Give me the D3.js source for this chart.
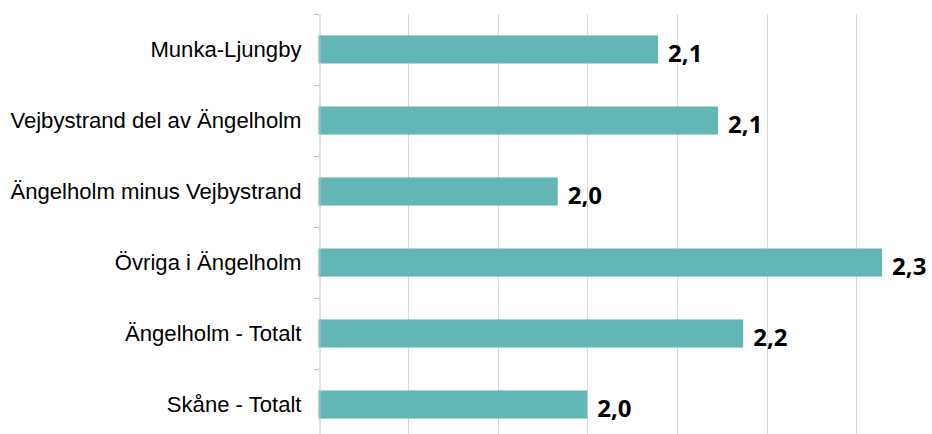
<!DOCTYPE html>
<html>
<head>
<meta charset="utf-8">
<script src="https://cdn.jsdelivr.net/npm/d3@7"></script>
<style>
  html, body { margin: 0; padding: 0; background: #fff; }
  svg { display: block; }
</style>
</head>
<body>
<svg id="chart" width="932" height="434"></svg>
<script>
// categories top to bottom
const categories = [
  "Munka-Ljungby",
  "Vejbystrand del av Ängelholm",
  "Ängelholm minus Vejbystrand",
  "Övriga i Ängelholm",
  "Ängelholm - Totalt",
  "Skåne - Totalt",
];
const values = [2.079, 2.146, 1.967, 2.329, 2.174, 2.0];
const xTicks = [1.7, 1.8, 1.9, 2.0, 2.1, 2.2, 2.3, 2.4];

const width = 932;
const height = 434;
const marginLeft = 318.5;
const marginTop = 14;
const plotBottom = 440; // last band runs past the picture edge

const svg = d3.select("#chart");

const x = d3.scaleLinear().domain([1.7, 2.4]).range([marginLeft, marginLeft + 7 * 89.6]);
const y = d3.scaleBand().domain(categories).range([marginTop, plotBottom]).padding(0);
const barH = y.bandwidth() * 0.395;

// vertical gridlines
svg.selectAll(".gridline")
  .data(xTicks.slice(1))
  .join("line")
  .attr("class", "gridline")
  .attr("x1", (d) => Math.round(x(d)) + 0.5)
  .attr("x2", (d) => Math.round(x(d)) + 0.5)
  .attr("y1", marginTop)
  .attr("y2", height)
  .attr("stroke", "#d9d9d9")
  .attr("stroke-width", 1);

// bars
svg.selectAll(".bar")
  .data(values)
  .join("rect")
  .attr("class", "bar")
  .attr("x", x(1.7))
  .attr("y", (d, i) => y(categories[i]) + (y.step() - barH) / 2)
  .attr("width", (d) => x(d) - x(1.7))
  .attr("height", barH)
  .attr("fill", "#62b7b4");

// value labels
svg.selectAll(".value-label")
  .data(values)
  .join("text")
  .attr("class", "value-label")
  .attr("x", (d) => x(d) + 10)
  .attr("y", (d, i) => y(categories[i]) + y.step() / 2 + 12)
  .attr("font-family", "'Open Sans', sans-serif")
  .attr("font-weight", 700)
  .attr("font-size", 24)
  .attr("fill", "#000")
  .text((d) => d3.format(".1f")(d).replace(".", ","));

// category axis
const yAxis = d3.axisLeft(y).tickSize(0).tickPadding(18);
const gy = svg.append("g")
  .attr("transform", `translate(${Math.round(marginLeft) + 0.5},0)`)
  .call(yAxis);
gy.select(".domain").attr("stroke", "#bfbfbf");
gy.selectAll("text")
  .attr("font-family", "'Liberation Sans', Arial, sans-serif")
  .attr("font-size", 22.1)
  .attr("fill", "#000");

// band boundary ticks
svg.selectAll(".band-tick")
  .data(categories)
  .join("line")
  .attr("class", "band-tick")
  .attr("x1", Math.round(marginLeft) - 5)
  .attr("x2", Math.round(marginLeft))
  .attr("y1", (d) => Math.round(y(d)) + 0.5)
  .attr("y2", (d) => Math.round(y(d)) + 0.5)
  .attr("stroke", "#bfbfbf");
</script>
</body>
</html>
